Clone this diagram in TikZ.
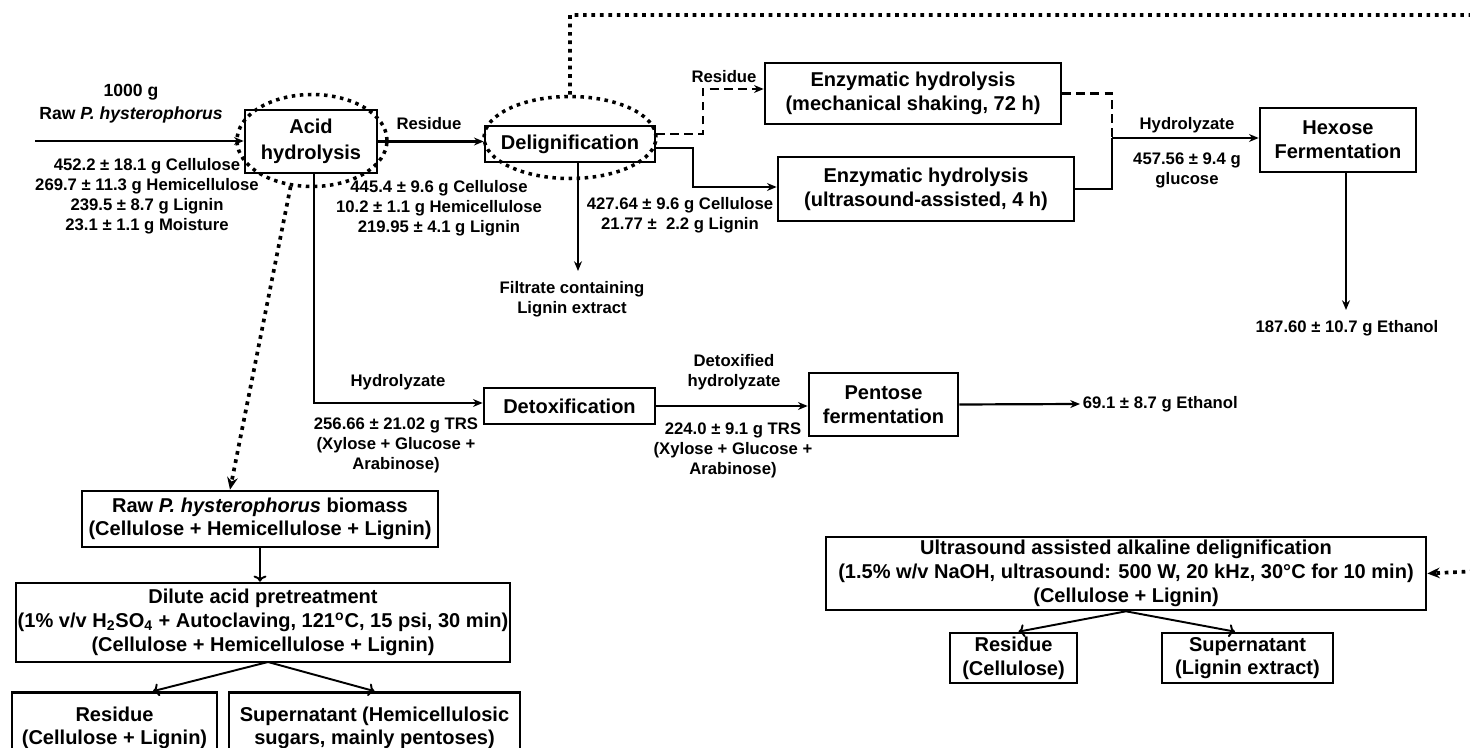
\documentclass[tikz,border=0pt]{standalone}
\usepackage{fontspec}
\setmainfont{Liberation Sans}
\usetikzlibrary{shapes.geometric,arrows.meta,calc}

\begin{document}
\begin{tikzpicture}[>={Stealth[length=5.5pt,width=4.5pt]}, line width=1.25pt]
          \useasboundingbox (0,0) rectangle (29.4,-14.96);
          \tikzstyle{box} = [draw, line width=1.5pt, align=center, inner sep=0pt, font=\bfseries\fontsize{11.4}{13.5}\selectfont]
          \tikzstyle{lbl} = [align=center, inner sep=1pt, font=\bfseries\fontsize{9.5}{11.4}\selectfont]
          \tikzstyle{ring} = [draw, ellipse, line width=2pt, dash pattern=on 2pt off 2.6pt, inner sep=0pt]
          \tikzstyle{dotline} = [line width=2.1pt, dash pattern=on 2.1pt off 2.7pt, -{Stealth[length=7pt,width=6pt]}]
          \tikzstyle{split} = [line width=1.1pt, -{To[length=3.5pt]}]
          % main line
          \node[box, minimum width=2.64cm, minimum height=1.26cm](acid) at (6.22,-2.83) {Acid\\[1pt]hydrolysis};
          \node[box, minimum width=3.4cm, minimum height=0.72cm](delig) at (11.4,-2.88) {Delignification};
          \node[box, minimum width=5.92cm, minimum height=1.22cm](mech) at (18.26,-1.87) {Enzymatic hydrolysis\\(mechanical shaking, 72 h)};
          \node[box, minimum width=5.92cm, minimum height=1.28cm](ultra) at (18.52,-3.78) {Enzymatic hydrolysis\\(ultrasound-assisted, 4 h)};
          \node[box, minimum width=3.12cm, minimum height=1.28cm](hexose) at (26.76,-2.8) {Hexose\\Fermentation};
          \node[box, minimum width=3.42cm, minimum height=0.72cm](detox) at (11.39,-8.12) {Detoxification};
          \node[box, minimum width=2.98cm, minimum height=1.26cm](pentose) at (17.67,-8.09) {Pentose\\fermentation};
          % process details
          \node[box, minimum width=7.12cm, minimum height=1.12cm](biomass) at (5.2,-10.38) {Raw \textit{P. hysterophorus} biomass\\(Cellulose + Hemicellulose + Lignin)};
          \node[box, minimum width=9.88cm, minimum height=1.58cm](dilute) at (5.26,-12.45) {Dilute acid pretreatment\\(1\% v/v H\textsubscript{2}SO\textsubscript{4} + Autoclaving, 121\textsuperscript{o}C, 15 psi, 30 min)\\(Cellulose + Hemicellulose + Lignin)};
          \node[box, minimum width=4.1cm, minimum height=1.42cm](res1) at (2.29,-14.56) {Residue\\(Cellulose + Lignin)};
          \node[box, minimum width=5.82cm, minimum height=1.42cm](sup1) at (7.49,-14.56) {Supernatant (Hemicellulosic\\sugars, mainly pentoses)};
          \node[box, minimum width=12cm, minimum height=1.46cm](alk) at (22.52,-11.47) {Ultrasound assisted alkaline delignification\\(1.5\% w/v NaOH, ultrasound: 500 W, 20 kHz, 30°C for 10 min)\\(Cellulose + Lignin)};
          \node[box, minimum width=2.54cm, minimum height=1cm](res2) at (20.27,-13.16) {Residue\\(Cellulose)};
          \node[box, minimum width=3.42cm, minimum height=1cm](sup2) at (24.95,-13.16) {Supernatant\\(Lignin extract)};
          % dotted rings
          \node[ring, minimum width=3cm, minimum height=1.84cm](ringA) at (6.24,-2.81) {};
          \node[ring, minimum width=3.44cm, minimum height=1.64cm](ringD) at (11.4,-2.75) {};
          % labels
          \node[lbl, font=\bfseries\fontsize{10}{13}\selectfont](raw) at (2.62,-2.07) {1000 g\\Raw \textit{P. hysterophorus}};
          \node[lbl](comp) at (2.94,-3.92) {452.2 ± 18.1 g Cellulose\\269.7 ± 11.3 g Hemicellulose\\239.5 ± 8.7 g Lignin\\23.1 ± 1.1 g Moisture};
          \node[lbl](resA) at (8.58,-2.48) {Residue};
          \node[lbl](compR) at (8.78,-4.16) {445.4 ± 9.6 g Cellulose\\10.2 ± 1.1 g Hemicellulose\\219.95 ± 4.1 g Lignin};
          \node[lbl](compD) at (13.6,-4.3) {427.64 ± 9.6 g Cellulose\\21.77 ±\ \ 2.2 g Lignin};
          \node[lbl](resB) at (14.48,-1.54) {Residue};
          \node[lbl](hydA) at (23.74,-2.5) {Hydrolyzate};
          \node[lbl](glc) at (23.74,-3.41) {457.56 ± 9.4 g\\glucose};
          \node[lbl, anchor=north](eth1) at (26.94,-6.36) {187.60 ± 10.7 g Ethanol};
          \node[lbl, anchor=north](filtr) at (11.44,-5.58) {Filtrate containing\\Lignin extract};
          \node[lbl](hydB) at (7.96,-7.64) {Hydrolyzate};
          \node[lbl](trsA) at (7.92,-8.9) {256.66 ± 21.02 g TRS\\(Xylose + Glucose +\\Arabinose)};
          \node[lbl](hydC) at (14.68,-7.45) {Detoxified\\hydrolyzate};
          \node[lbl](trsB) at (14.66,-9.0) {224.0 ± 9.1 g TRS\\(Xylose + Glucose +\\Arabinose)};
          \node[lbl, anchor=west](eth2) at (21.6,-8.08) {69.1 ± 8.7 g Ethanol};
          % connectors
          \coordinate (start) at (0.7,-2.82);
          \coordinate (filt) at (11.56,-5.42);
          \coordinate (dashC) at (14.06,-1.78);
          \coordinate (solC) at (13.86,-3.74);
          \coordinate (join) at (22.24,-2.76);
          \coordinate (ethC) at (26.92,-6.2);
          \coordinate (hydC1) at (6.28,-8.06);
          \coordinate (topR) at (29.6,-0.3);
          \coordinate (rightR) at (29.6,-11.42);
          \coordinate (splitA) at (5.36,-13.24);
          \draw[->] (start) -- (start -| acid.west);
          \draw[->] (acid.east) -- (acid.east -| delig.west);
          \draw[->, dashed, dash pattern=on 5pt off 3pt] ([yshift=2mm]delig.east) -| (dashC) -- (dashC -| mech.west);
          \draw[->] ([yshift=-0.8mm]delig.east) -| (solC) -- (solC -| ultra.west);
          \draw[->] (delig.south -| filt) -- (filt);
          \draw[dashed, dash pattern=on 5pt off 3pt] (mech.east) -| (join);
          \draw (ultra.east) -| (join);
          \draw[->] (join) -- (join -| hexose.west);
          \draw[->] (hexose.south -| ethC) -- (ethC);
          \draw[->] (acid.south -| hydC1) -- (hydC1) -- (hydC1 -| detox.west);
          \draw[->] (detox.east) -- (detox.east -| pentose.west);
          \draw[->] (pentose.east) -- (eth2.west);
          \draw[dotline] (ringA.245) -- ([xshift=-6mm]biomass.north);
          \draw[dotline] (ringD.north) |- (topR) -- (rightR) -- (alk.east);
          \draw[split] (biomass.south) -- (biomass.south |- dilute.north);
          \draw[split] (splitA) -- ([xshift=7.7mm]res1.north);
          \draw[split] (splitA) -- (sup1.north);
          \draw[split] (alk.south) -- ([xshift=1mm]res2.north);
          \draw[split] (alk.south) -- ([xshift=-2.5mm]sup2.north);
\end{tikzpicture}
\end{document}
